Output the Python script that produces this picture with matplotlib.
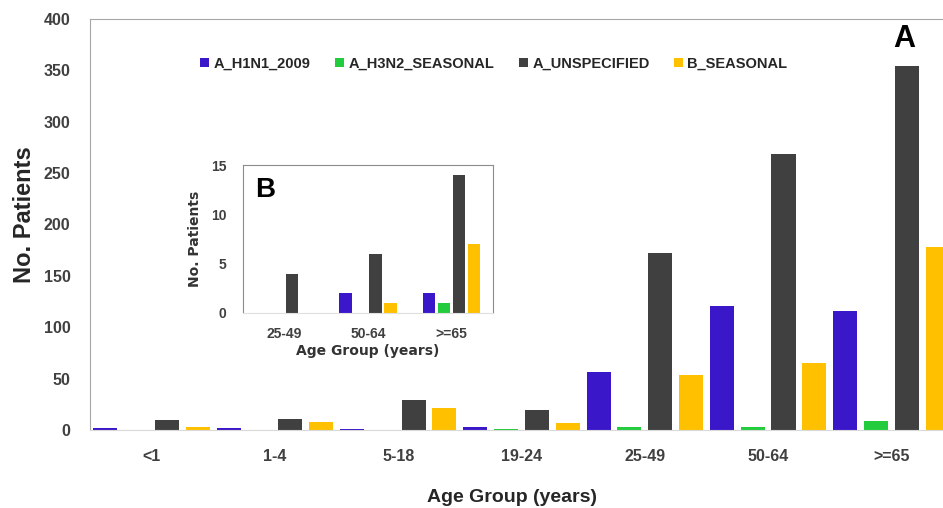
import matplotlib
matplotlib.use("Agg")
import matplotlib.pyplot as plt
import numpy as np

# -----------------------------
# Data
# -----------------------------
AGE_GROUPS = ["<1", "1-4", "5-18", "19-24", "25-49", "50-64", ">=65"]
SERIES = ["A_H1N1_2009", "A_H3N2_SEASONAL", "A_UNSPECIFIED", "B_SEASONAL"]
H1N1 = [2, 2, 1, 3, 56, 121, 116]
H3N2 = [0, 0, 0, 1, 3, 3, 9]
UNSPEC = [10, 11, 29, 19, 172, 269, 354]
B_SEAS = [3, 8, 21, 7, 54, 65, 178]

INSET_GROUPS = ["25-49", "50-64", ">=65"]
INSET_H1N1 = [0, 2, 2]
INSET_H3N2 = [0, 0, 1]
INSET_UNSPEC = [4, 6, 14]
INSET_B = [0, 1, 7]

COLORS = ["#3a17c9", "#22cc3c", "#404040", "#ffc000"]

NARROW = ["Liberation Sans Narrow", "Liberation Sans", "DejaVu Sans"]
BOLD = ["Liberation Sans", "DejaVu Sans"]
TICK_C = "#404040"

fig = plt.figure(figsize=(9.43, 5.08), dpi=100)

# main axes (right edge runs past the figure, as in the cropped original)
ax = fig.add_axes([90 / 943, 78 / 508, 863 / 943, 411 / 508])
x = np.arange(len(AGE_GROUPS))
offsets = [-0.375, -0.125, 0.125, 0.375]
handles = []
for vals, off, col, name in zip([H1N1, H3N2, UNSPEC, B_SEAS], offsets, COLORS, SERIES):
    h = ax.bar(x + off, vals, width=0.195, color=col, label=name, zorder=2)
    handles.append(h)

ax.set_xlim(-0.5, 6.5)
ax.set_ylim(0, 400)
ax.set_yticks(range(0, 401, 50))
ax.set_xticks(x)
ax.set_xticklabels(AGE_GROUPS)
ax.tick_params(length=0, colors=TICK_C)
ax.tick_params(axis="y", pad=14)
ax.tick_params(axis="x", pad=14)
for lab in ax.get_xticklabels() + ax.get_yticklabels():
    lab.set_family(NARROW)
    lab.set_fontweight("bold")
    lab.set_fontsize(11.5)
ax.spines["left"].set_color("#a6a6a6")
ax.spines["top"].set_color("#a6a6a6")
ax.spines["bottom"].set_color("#d9d9d9")
ax.spines["right"].set_visible(False)

fig.text(25 / 943, 1 - 215 / 508, "No. Patients", rotation=90, ha="center", va="center",
         fontsize=17, fontweight="bold", family=BOLD, color="#262626")
fig.text(512 / 943, 1 - 497 / 508, "Age Group (years)", ha="center", va="center",
         fontsize=14, fontweight="bold", family=BOLD, color="#262626")
fig.text(904 / 943, 1 - 39 / 508, "A", ha="center", va="center",
         fontsize=22, fontweight="bold", family=BOLD, color="black")

leg = fig.legend(handles=handles, loc="center", bbox_to_anchor=(494 / 943, 1 - 64 / 508),
                 ncol=4, frameon=False, handlelength=0.6, handleheight=0.6,
                 handletextpad=0.3, columnspacing=1.7,
                 prop={"family": BOLD, "weight": "bold", "size": 10.5})
for t in leg.get_texts():
    t.set_color("#262626")

# inset
ins = fig.add_axes([243 / 943, 195 / 508, 250 / 943, 148 / 508])
xi = np.arange(len(INSET_GROUPS))
ioff = [-0.27, -0.09, 0.09, 0.27]
for vals, off, col in zip([INSET_H1N1, INSET_H3N2, INSET_UNSPEC, INSET_B], ioff, COLORS):
    ins.bar(xi + off, vals, width=0.145, color=col, zorder=2)
ins.set_xlim(-0.5, 2.5)
ins.set_ylim(0, 15)
ins.set_yticks([0, 5, 10, 15])
ins.set_xticks(xi)
ins.set_xticklabels(INSET_GROUPS)
ins.tick_params(length=0, colors=TICK_C)
ins.tick_params(axis="y", pad=12)
ins.tick_params(axis="x", pad=10)
for lab in ins.get_xticklabels() + ins.get_yticklabels():
    lab.set_family(NARROW)
    lab.set_fontweight("bold")
    lab.set_fontsize(10)
for s in ["left", "top", "right"]:
    ins.spines[s].set_color("#8c8c8c")
ins.spines["bottom"].set_color("#e0e0e0")
ins.set_ylabel("No. Patients", fontsize=10, fontweight="bold", family=["DejaVu Sans"],
               color="#333333", labelpad=6)
ins.set_xlabel("Age Group (years)", fontsize=10, fontweight="bold", family=["DejaVu Sans"],
               color="#333333", labelpad=2)
ins.text(0.09, 0.83, "B", transform=ins.transAxes, ha="center", va="center",
         fontsize=20, fontweight="bold", family=BOLD, color="black")

fig.savefig("out.png", dpi=100)
